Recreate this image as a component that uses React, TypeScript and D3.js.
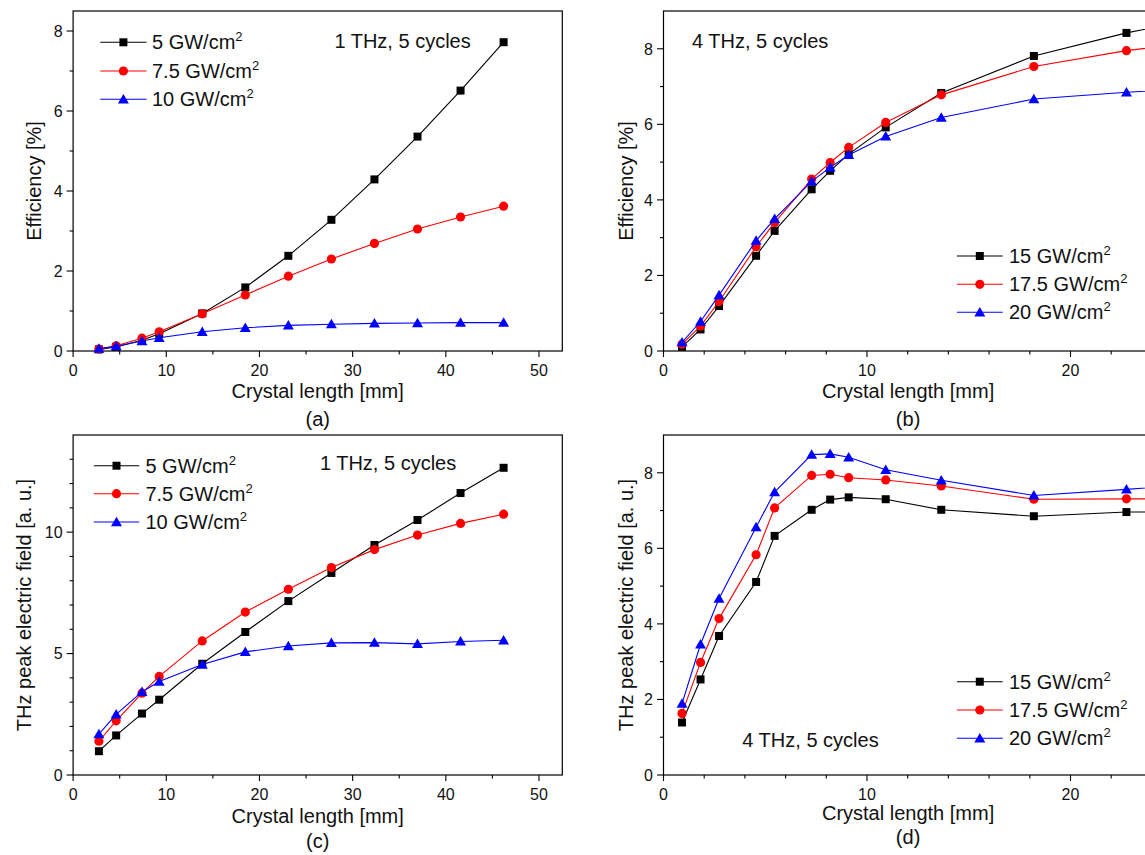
import React from 'react';
import * as d3 from 'd3';

// Crystal lengths [mm] for the 1 THz and 4 THz runs
const lengths1THz = [2.77, 4.62, 7.39, 9.24, 13.86, 18.48, 23.1, 27.72, 32.34, 36.96, 41.58, 46.2];
const lengths4THz = [0.91, 1.82, 2.73, 4.55, 5.46, 7.28, 8.19, 9.1, 10.92, 13.65, 18.2, 22.75, 27.3];

// (a) efficiency [%], 1 THz
const effA_5 = [0.04, 0.1, 0.27, 0.43, 0.94, 1.59, 2.38, 3.28, 4.29, 5.36, 6.51, 7.72];
const effA_75 = [0.05, 0.13, 0.32, 0.48, 0.93, 1.4, 1.87, 2.3, 2.69, 3.05, 3.35, 3.62];
const effA_10 = [0.06, 0.12, 0.25, 0.33, 0.48, 0.58, 0.64, 0.67, 0.69, 0.7, 0.71, 0.71];

// (b) efficiency [%], 4 THz
const effB_15 = [0.11, 0.57, 1.19, 2.52, 3.18, 4.28, 4.77, 5.21, 5.92, 6.83, 7.81, 8.42, 8.9];
const effB_175 = [0.18, 0.66, 1.31, 2.76, 3.4, 4.55, 4.99, 5.39, 6.05, 6.78, 7.53, 7.95, 8.26];
const effB_20 = [0.23, 0.78, 1.48, 2.92, 3.5, 4.49, 4.86, 5.19, 5.68, 6.18, 6.67, 6.85, 6.98];

// (c) THz peak field [a. u.], 1 THz
const fieldC_5 = [0.98, 1.63, 2.53, 3.1, 4.58, 5.89, 7.16, 8.32, 9.47, 10.5, 11.61, 12.65];
const fieldC_75 = [1.39, 2.23, 3.37, 4.06, 5.52, 6.71, 7.65, 8.54, 9.28, 9.88, 10.36, 10.74];
const fieldC_10 = [1.68, 2.5, 3.42, 3.85, 4.55, 5.07, 5.31, 5.44, 5.45, 5.4, 5.5, 5.55];

// (d) THz peak field [a. u.], 4 THz
const fieldD_15 = [1.39, 2.53, 3.68, 5.11, 6.33, 7.02, 7.29, 7.35, 7.3, 7.02, 6.85, 6.96, 6.96];
const fieldD_175 = [1.63, 2.98, 4.14, 5.83, 7.07, 7.93, 7.96, 7.87, 7.81, 7.65, 7.3, 7.31, 7.31];
const fieldD_20 = [1.89, 3.46, 4.67, 6.56, 7.49, 8.48, 8.5, 8.41, 8.08, 7.8, 7.4, 7.56, 7.75];

const labels1THz = ['5', '7.5', '10'];
const labels4THz = ['15', '17.5', '20'];
const seriesColors = ['#000000', '#ff0000', '#0000ff'];
const seriesShapes = [d3.symbolSquare, d3.symbolCircle, d3.symbolTriangle];
const shapeSizes = [64, 66, 52];

const xTicks1THz = [0, 10, 20, 30, 40, 50];
const xMinor1THz = [5, 15, 25, 35, 45];
const xTicks4THz = [0, 10, 20];
const xMinor4THz = [2, 4, 6, 8, 12, 14, 16, 18, 22];
const yTicks8 = [0, 2, 4, 6, 8];
const yMinor8 = [1, 3, 5, 7];
const yTicksC = [0, 5, 10];
const yMinorC = [1, 2, 3, 4, 6, 7, 8, 9, 11, 12, 13];

const FONT = '"Liberation Sans", Arial, Helvetica, sans-serif';
const INK = '#111';

type Box = { left: number; right: number; top: number; bottom: number };

interface PanelProps {
  box: Box;
  xDomain: [number, number];
  yDomain: [number, number];
  xMajor: number[];
  xMinor: number[];
  yMajor: number[];
  yMinor: number[];
  xs: number[];
  ys: number[][];
  names: string[];
  yTitle: string;
  yTitleX: number;
  xTitleY: number;
  tag: string;
  tagY: number;
  legend: { lx1: number; lx2: number; tx: number; rows: number[] };
  note: { x: number; y: number; text: string };
}

function Marker({ i, cx, cy }: { i: number; cx: number; cy: number }) {
  const path = d3.symbol().type(seriesShapes[i]).size(shapeSizes[i])() || '';
  const dy = i === 2 ? 1 : 0;
  return <path d={path} transform={`translate(${cx},${cy + dy})`} fill={seriesColors[i]} />;
}

function Panel(p: PanelProps) {
  const { box } = p;
  const x = d3.scaleLinear().domain(p.xDomain).range([box.left, box.right]);
  const y = d3.scaleLinear().domain(p.yDomain).range([box.bottom, box.top]);
  const line = d3
    .line<number>()
    .x((_, k) => x(p.xs[k]))
    .y((d) => y(d));
  const cxTitle = (box.left + box.right) / 2;
  const cyTitle = (box.top + box.bottom) / 2;

  return (
    <g fontFamily={FONT} fill={INK}>
      {/* frame */}
      <rect
        x={box.left}
        y={box.top}
        width={box.right - box.left}
        height={box.bottom - box.top}
        fill="none"
        stroke="#000"
        strokeWidth={1.2}
      />
      {/* x ticks */}
      {p.xMajor.map((t) => (
        <g key={'xm' + t}>
          <line x1={x(t)} x2={x(t)} y1={box.bottom} y2={box.bottom + 6} stroke="#000" strokeWidth={1.1} />
          <text x={x(t)} y={box.bottom + 25} textAnchor="middle" fontSize={16}>
            {t}
          </text>
        </g>
      ))}
      {p.xMinor.map((t) => (
        <line key={'xn' + t} x1={x(t)} x2={x(t)} y1={box.bottom} y2={box.bottom + 3.5} stroke="#000" strokeWidth={1.1} />
      ))}
      {/* y ticks */}
      {p.yMajor.map((t) => (
        <g key={'ym' + t}>
          <line x1={box.left - 6.5} x2={box.left} y1={y(t)} y2={y(t)} stroke="#000" strokeWidth={1.1} />
          <text x={box.left - 10.5} y={y(t) + 5.8} textAnchor="end" fontSize={16}>
            {t}
          </text>
        </g>
      ))}
      {p.yMinor.map((t) => (
        <line key={'yn' + t} x1={box.left - 3.5} x2={box.left} y1={y(t)} y2={y(t)} stroke="#000" strokeWidth={1.1} />
      ))}
      {/* axis titles */}
      <text x={cxTitle} y={p.xTitleY} textAnchor="middle" fontSize={20}>
        Crystal length [mm]
      </text>
      <text x={cxTitle} y={p.tagY} textAnchor="middle" fontSize={20}>
        {p.tag}
      </text>
      <text
        transform={`translate(${p.yTitleX},${cyTitle}) rotate(-90)`}
        textAnchor="middle"
        fontSize={20}
      >
        {p.yTitle}
      </text>
      {/* series */}
      {p.ys.map((vals, i) => (
        <g key={'s' + i}>
          <path d={line(vals) || ''} fill="none" stroke={seriesColors[i]} strokeWidth={1.1} />
          {vals.map((v, k) => (
            <Marker key={k} i={i} cx={x(p.xs[k])} cy={y(v)} />
          ))}
        </g>
      ))}
      {/* legend */}
      {p.names.map((n, i) => {
        const ry = p.legend.rows[i];
        return (
          <g key={'l' + i}>
            <line x1={p.legend.lx1} x2={p.legend.lx2} y1={ry} y2={ry} stroke={seriesColors[i]} strokeWidth={1.1} />
            <Marker i={i} cx={(p.legend.lx1 + p.legend.lx2) / 2} cy={ry} />
            <text x={p.legend.tx} y={ry + 7} fontSize={20}>
              {n} GW/cm
              <tspan dy={-8} fontSize={13}>
                2
              </tspan>
            </text>
          </g>
        );
      })}
      <text x={p.note.x} y={p.note.y} fontSize={20}>
        {p.note.text}
      </text>
    </g>
  );
}

export default function App() {
  const boxA: Box = { left: 73.1, right: 562.3, top: 11, bottom: 351 };
  const boxB: Box = { left: 663.5, right: 1152.7, top: 11, bottom: 351 };
  const boxC: Box = { left: 73.1, right: 562.3, top: 435, bottom: 775 };
  const boxD: Box = { left: 663.5, right: 1152.7, top: 435, bottom: 775 };

  return (
    <svg
      width={1145}
      height={855}
      viewBox="0 0 1145 855"
      style={{ position: 'absolute', left: 0, top: 0, background: '#fff' }}
    >
      <rect width={1145} height={855} fill="#fff" />
      <Panel
        box={boxA}
        xDomain={[0, 52.5]}
        yDomain={[0, 8.5]}
        xMajor={xTicks1THz}
        xMinor={xMinor1THz}
        yMajor={yTicks8}
        yMinor={yMinor8}
        xs={lengths1THz}
        ys={[effA_5, effA_75, effA_10]}
        names={labels1THz}
        yTitle="Efficiency [%]"
        yTitleX={41}
        xTitleY={398}
        tag="(a)"
        tagY={426}
        legend={{ lx1: 100.3, lx2: 146.5, tx: 152, rows: [42.3, 71, 99.3] }}
        note={{ x: 334.4, y: 47.7, text: '1 THz, 5 cycles' }}
      />
      <Panel
        box={boxB}
        xDomain={[0, 24.04]}
        yDomain={[0, 9]}
        xMajor={xTicks4THz}
        xMinor={xMinor4THz}
        yMajor={yTicks8}
        yMinor={yMinor8}
        xs={lengths4THz}
        ys={[effB_15, effB_175, effB_20]}
        names={labels4THz}
        yTitle="Efficiency [%]"
        yTitleX={633}
        xTitleY={398}
        tag="(b)"
        tagY={426}
        legend={{ lx1: 956.9, lx2: 1002.7, tx: 1009, rows: [256, 284.3, 312.3] }}
        note={{ x: 692, y: 47.7, text: '4 THz, 5 cycles' }}
      />
      <Panel
        box={boxC}
        xDomain={[0, 52.5]}
        yDomain={[0, 14]}
        xMajor={xTicks1THz}
        xMinor={xMinor1THz}
        yMajor={yTicksC}
        yMinor={yMinorC}
        xs={lengths1THz}
        ys={[fieldC_5, fieldC_75, fieldC_10]}
        names={labels1THz}
        yTitle="THz peak electric field [a. u.]"
        yTitleX={30.5}
        xTitleY={823}
        tag="(c)"
        tagY={848}
        legend={{ lx1: 93.8, lx2: 139.2, tx: 145.4, rows: [465.7, 493.7, 522] }}
        note={{ x: 319.9, y: 469.7, text: '1 THz, 5 cycles' }}
      />
      <Panel
        box={boxD}
        xDomain={[0, 24.04]}
        yDomain={[0, 9]}
        xMajor={xTicks4THz}
        xMinor={xMinor4THz}
        yMajor={yTicks8}
        yMinor={yMinor8}
        xs={lengths4THz}
        ys={[fieldD_15, fieldD_175, fieldD_20]}
        names={labels4THz}
        yTitle="THz peak electric field [a. u.]"
        yTitleX={633}
        xTitleY={820}
        tag="(d)"
        tagY={844}
        legend={{ lx1: 956.9, lx2: 1002.7, tx: 1009, rows: [681.7, 710, 738.3] }}
        note={{ x: 742.3, y: 747, text: '4 THz, 5 cycles' }}
      />
    </svg>
  );
}
